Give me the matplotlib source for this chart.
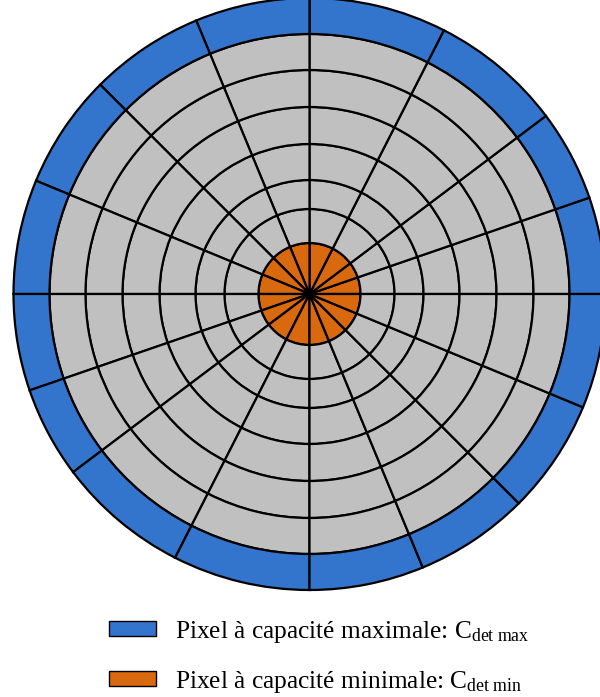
import numpy as np
import matplotlib
matplotlib.use("Agg")
import matplotlib.pyplot as plt
from matplotlib.patches import Wedge, Patch

# ring boundaries (px from centre) and spoke directions (deg, each is a full diameter)
ring_radii = [51, 85, 114, 150, 187, 224, 260, 296]
spoke_angles = [0, 19, 37, 63, 90, 112.5, 135, 157.5]

color_max = "#3375CC"
color_min = "#D9690E"
color_mid = "#C0C0C0"

labels = [r"Pixel à capacité maximale: $\mathrm{C_{det\ max}}$",
          r"Pixel à capacité minimale: $\mathrm{C_{det\ min}}$"]

plt.rcParams["font.family"] = ["Liberation Serif", "DejaVu Serif"]
plt.rcParams["mathtext.fontset"] = "custom"
plt.rcParams["mathtext.rm"] = "Liberation Serif"
plt.rcParams["mathtext.it"] = "Liberation Serif:italic"

W, H = 600, 697
cx, cy = 309.5, 294

fig = plt.figure(figsize=(W / 100, H / 100), dpi=100)
ax = fig.add_axes([0, 0, 1, 1])
ax.set_xlim(-cx, W - cx)
ax.set_ylim(-(H - cy), cy)
ax.set_aspect("equal")
ax.axis("off")

edges = sorted(spoke_angles + [a + 180 for a in spoke_angles]) + [360]
inner = [0] + ring_radii[:-1]
for k, (r_in, r_out) in enumerate(zip(inner, ring_radii)):
    if k == 0:
        fc = color_min
    elif k == len(ring_radii) - 1:
        fc = color_max
    else:
        fc = color_mid
    for a0, a1 in zip(edges[:-1], edges[1:]):
        w = Wedge((0, 0), r_out, a0, a1, width=(r_out - r_in) if r_in > 0 else None,
                  facecolor=fc, edgecolor="black", linewidth=1.6)
        ax.add_patch(w)

handles = [Patch(facecolor=color_max, edgecolor="black", linewidth=1.0),
           Patch(facecolor=color_min, edgecolor="black", linewidth=1.0)]
fs = 18.3
fig.legend(handles, labels, loc="upper left", bbox_to_anchor=(101 / W, 1 - 611 / H),
           frameon=False, fontsize=fs, handlelength=1.85, handleheight=0.55,
           handletextpad=0.75, labelspacing=0.95, borderaxespad=0, borderpad=0.3)

fig.savefig("out.png", dpi=100)
